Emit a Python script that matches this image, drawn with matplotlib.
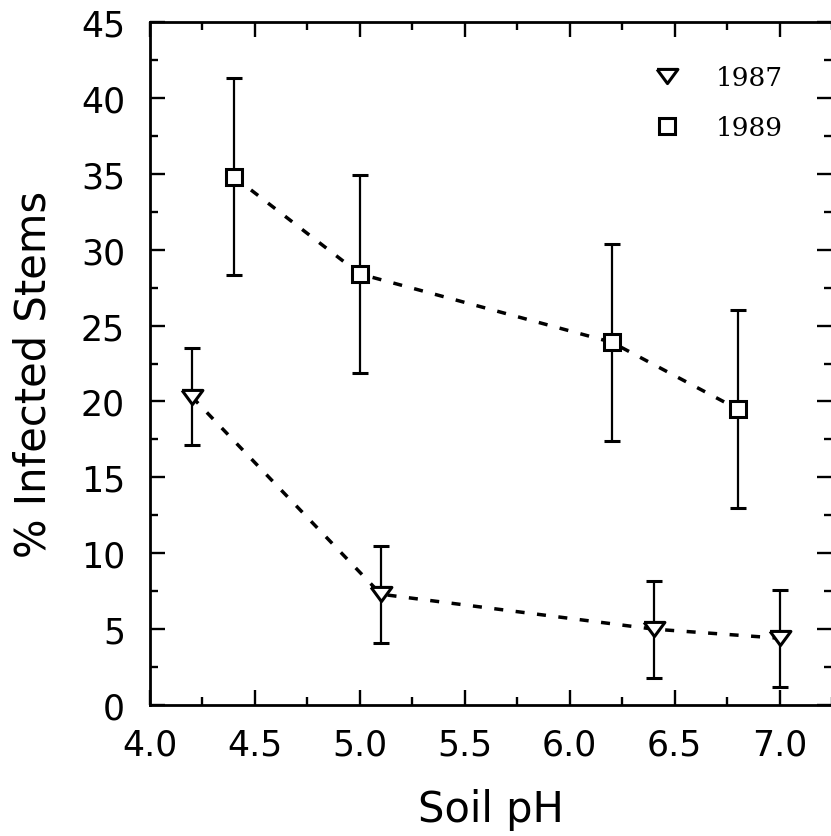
import matplotlib
matplotlib.use("Agg")
import matplotlib.pyplot as plt
from matplotlib.lines import Line2D
from matplotlib.ticker import MultipleLocator, FormatStrFormatter

# Data
ph_1987 = [4.2, 5.1, 6.4, 7.0]
inf_1987 = [20.3, 7.3, 5.0, 4.4]
err_1987 = [3.2, 3.2, 3.2, 3.2]

ph_1989 = [4.4, 5.0, 6.2, 6.8]
inf_1989 = [34.8, 28.4, 23.9, 19.5]
err_1989 = [6.5, 6.5, 6.5, 6.5]

labels = ["1987", "1989"]
xlabel = "Soil pH"
ylabel = "% Infected Stems"

tri = [(-1, 0.68), (1, 0.68), (0, -0.68), (-1, 0.68)]

fig = plt.figure(figsize=(8.31, 8.37), dpi=100)
ax = fig.add_axes([150/831, 131/837, 682/831, 683/837])

common = dict(color="black", linestyle=(0, (2.6, 3.6)), linewidth=2.5,
              markerfacecolor="white", markeredgecolor="black",
              markeredgewidth=2.2, elinewidth=1.6, capsize=5.5, capthick=1.8,
              ecolor="black", dash_capstyle="butt")

ax.errorbar(ph_1987, inf_1987, yerr=err_1987, marker=tri, markersize=15, **common)
ax.errorbar(ph_1989, inf_1989, yerr=err_1989, marker="s", markersize=11, **common)

ax.set_xlim(4.0, 7.25)
ax.set_ylim(0, 45)
ax.xaxis.set_major_locator(MultipleLocator(0.5))
ax.xaxis.set_minor_locator(MultipleLocator(0.25))
ax.yaxis.set_major_locator(MultipleLocator(5))
ax.yaxis.set_minor_locator(MultipleLocator(2.5))
ax.xaxis.set_major_formatter(FormatStrFormatter("%.1f"))

ax.tick_params(which="both", direction="in", top=True, right=True, width=1.7)
ax.tick_params(which="major", length=11)
ax.tick_params(which="minor", length=6)
ax.tick_params(axis="y", which="major", labelsize=25, pad=18)
ax.tick_params(axis="x", which="major", labelsize=25, pad=16)
for s in ax.spines.values():
    s.set_linewidth(2.0)

ax.set_xlabel(xlabel, fontsize=30)
ax.set_ylabel(ylabel, fontsize=30)
ax.xaxis.set_label_coords(0.5, -0.122)
ax.yaxis.set_label_coords(-0.14, 0.485)

h1 = Line2D([], [], linestyle="none", marker=tri, markersize=15,
            markerfacecolor="white", markeredgecolor="black", markeredgewidth=2.2)
h2 = Line2D([], [], linestyle="none", marker="s", markersize=11,
            markerfacecolor="white", markeredgecolor="black", markeredgewidth=2.2)
ax.legend([h1, h2], labels, loc="upper left", bbox_to_anchor=(0.739, 0.937),
          frameon=False, borderpad=0, borderaxespad=0, handlelength=1.0,
          handletextpad=1.33, labelspacing=0.95,
          prop={"family": "DejaVu Serif", "size": 19})

fig.savefig("out.png", dpi=100)
